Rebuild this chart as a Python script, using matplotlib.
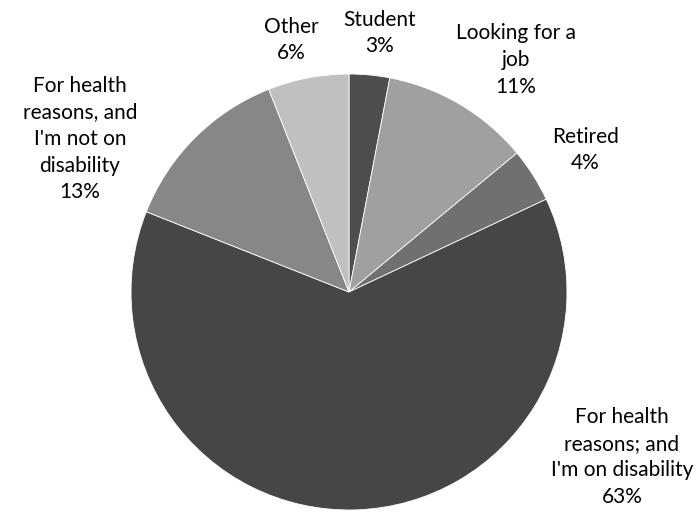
import matplotlib.pyplot as plt

# Reasons for not working (percent of respondents)
labels = ["Student", "Looking for a\njob", "Retired",
          "For health\nreasons; and\nI'm on disability",
          "For health\nreasons, and\nI'm not on\ndisability", "Other"]
values = [3, 11, 4, 63, 13, 6]
colors = ["#4d4d4d", "#a0a0a0", "#707070", "#464646", "#878787", "#c0c0c0"]
# label anchor points, in pie-radius units
label_pos = [(0.138, 1.188), (0.766, 1.064), (1.083, 0.651),
             (1.252, -0.757), (-1.234, 0.702), (-0.266, 1.156)]

plt.rcParams['font.family'] = ['Lato', 'DejaVu Sans']

fig = plt.figure(figsize=(6.96, 5.31), dpi=100)
cx, cy, r = 349, 292, 218
ax = fig.add_axes([(cx - r) / 696, (531 - cy - r) / 531, 2 * r / 696, 2 * r / 531])
wedges, _ = ax.pie(values, colors=colors, startangle=90, counterclock=False,
                   radius=1, wedgeprops={'edgecolor': 'white', 'linewidth': 0.6})
ax.set_xlim(-1, 1)
ax.set_ylim(-1, 1)

for lab, v, (x, y) in zip(labels, values, label_pos):
    ax.text(x, y, "%s\n%d%%" % (lab, v), ha='center', va='center',
            fontsize=15, linespacing=1.42, color='black')

fig.savefig("out.png", dpi=100)
